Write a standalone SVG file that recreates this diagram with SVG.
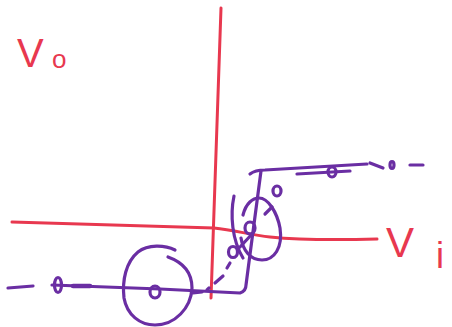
<svg xmlns="http://www.w3.org/2000/svg" width="452" height="327" viewBox="0 0 452 327">
<style>
.r{fill:none;stroke:#e8384f;stroke-width:3;stroke-linecap:round;stroke-linejoin:round}
.p{fill:none;stroke:#6a2ea3;stroke-width:3.2;stroke-linecap:round;stroke-linejoin:round}
.pb{fill:none;stroke:#6a2ea3;stroke-width:4.5;stroke-linecap:round}
.t{fill:#e8384f;font-family:"Liberation Sans",Arial,sans-serif}
</style>
<rect width="452" height="327" fill="#ffffff"/>
<g id="axes">
<path class="r" d="M221,8 L211,298"/>
<path class="r" d="M12,222 L214,228 C235,230 250,235 270,237 C300,240 340,240 377,239"/>
</g>
<g id="labels">
<text class="t" x="17" y="67" font-size="40">V</text>
<text class="t" x="52" y="68" font-size="26">o</text>
<text class="t" x="386" y="257" font-size="42">V</text>
<text class="t" x="436" y="268" font-size="36">i</text>
</g>
<g id="curve">
<path class="p" d="M8,288 L33,286"/>
<ellipse class="p" cx="58" cy="285" rx="3.5" ry="7.5"/>
<path class="pb" d="M73,286 L90,286"/>
<path class="p" d="M52,285 L160,289 L240,293 Q246,291 246,285 L249,262 L261,171"/>
<path class="p" d="M250,174 Q255,170 265,170 L367,164"/>
<path class="p" d="M297,174 L350,171"/>
<ellipse class="p" cx="332" cy="172" rx="4" ry="5"/>
<path class="p" d="M370,163 L383,168"/>
<ellipse class="p" cx="392" cy="165" rx="2" ry="3.5"/>
<path class="p" d="M410,165 L423,165"/>
</g>
<g id="circle-left">
<path class="p" d="M175,250 C165,245 148,244 138,252 C126,262 122,280 124,298 C127,315 140,325 155,325 C175,325 191,308 192,288 C192,272 182,262 168,257"/>
<ellipse class="p" cx="155" cy="292" rx="5" ry="6"/>
</g>
<g id="circle-right">
<path class="p" d="M243,215 C246,203 253,198 259,198 C268,198 277,212 280,228 C283,248 274,260 262,260 C250,260 243,250 241,238"/>
<path class="p" d="M265,214 L272,207"/>
<path class="p" d="M234,196 C230,215 232,240 243,258"/>
<ellipse class="p" cx="250" cy="228" rx="5" ry="6"/>
<ellipse class="p" cx="277" cy="191" rx="4" ry="5" stroke-width="4"/>
</g>
<g id="connector-dashed">
<path class="p" d="M193,293 L202,292"/>
<path class="p" d="M207,290 L209,288"/>
<path class="p" d="M215,283 L223,276"/>
<path class="p" d="M227,268 L230,263"/>
<ellipse class="p" cx="233" cy="252" rx="4.5" ry="5.5"/>
<path class="p" d="M240,247 L253,233"/>
</g>
</svg>
